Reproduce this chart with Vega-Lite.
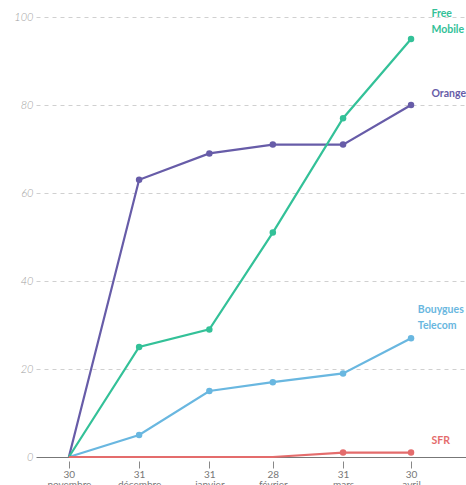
{
  "$schema": "https://vega.github.io/schema/vega-lite/v6.json",
  "width": 430,
  "height": 440,
  "autosize": "none",
  "padding": {"left": 36, "top": 17, "right": 0, "bottom": 28},
  "background": "white",
  "config": {
    "view": {"stroke": "transparent"},
    "font": "Lato"
  },
  "datasets": {
    "series": [
      {"operateur": "Bouygues Telecom", "date": "2013-11-30T00:00:00", "value": 0},
      {"operateur": "Bouygues Telecom", "date": "2013-12-31T00:00:00", "value": 5},
      {"operateur": "Bouygues Telecom", "date": "2014-01-31T00:00:00", "value": 15},
      {"operateur": "Bouygues Telecom", "date": "2014-02-28T00:00:00", "value": 17},
      {"operateur": "Bouygues Telecom", "date": "2014-03-31T00:00:00", "value": 19},
      {"operateur": "Bouygues Telecom", "date": "2014-04-30T00:00:00", "value": 27},
      {"operateur": "Orange", "date": "2013-11-30T00:00:00", "value": 0},
      {"operateur": "Orange", "date": "2013-12-31T00:00:00", "value": 63},
      {"operateur": "Orange", "date": "2014-01-31T00:00:00", "value": 69},
      {"operateur": "Orange", "date": "2014-02-28T00:00:00", "value": 71},
      {"operateur": "Orange", "date": "2014-03-31T00:00:00", "value": 71},
      {"operateur": "Orange", "date": "2014-04-30T00:00:00", "value": 80},
      {"operateur": "Free Mobile", "date": "2013-11-30T00:00:00", "value": 0},
      {"operateur": "Free Mobile", "date": "2013-12-31T00:00:00", "value": 25},
      {"operateur": "Free Mobile", "date": "2014-01-31T00:00:00", "value": 29},
      {"operateur": "Free Mobile", "date": "2014-02-28T00:00:00", "value": 51},
      {"operateur": "Free Mobile", "date": "2014-03-31T00:00:00", "value": 77},
      {"operateur": "Free Mobile", "date": "2014-04-30T00:00:00", "value": 95},
      {"operateur": "SFR", "date": "2013-11-30T00:00:00", "value": 0},
      {"operateur": "SFR", "date": "2013-12-31T00:00:00", "value": 0},
      {"operateur": "SFR", "date": "2014-01-31T00:00:00", "value": 0},
      {"operateur": "SFR", "date": "2014-02-28T00:00:00", "value": 0},
      {"operateur": "SFR", "date": "2014-03-31T00:00:00", "value": 1},
      {"operateur": "SFR", "date": "2014-04-30T00:00:00", "value": 1}
    ],
    "labels": [
      {"operateur": "Free Mobile", "label": "Free\nMobile", "date": "2014-05-09T00:00:00", "value": 101.8},
      {"operateur": "Orange", "label": "Orange", "date": "2014-05-09T00:00:00", "value": 83.6},
      {"operateur": "Bouygues Telecom", "label": "Bouygues\nTelecom", "date": "2014-05-03T00:00:00", "value": 34.6},
      {"operateur": "SFR", "label": "SFR", "date": "2014-05-09T00:00:00", "value": 4.8}
    ]
  },
  "encoding": {
    "x": {
      "field": "date",
      "type": "temporal",
      "title": null,
      "scale": {
        "domain": [
          {"year": 2013, "month": 11, "date": 15, "hours": 12},
          {"year": 2014, "month": 5, "date": 24, "hours": 6}
        ]
      },
      "axis": {
        "values": [
          {"year": 2013, "month": 11, "date": 30},
          {"year": 2013, "month": 12, "date": 31},
          {"year": 2014, "month": 1, "date": 31},
          {"year": 2014, "month": 2, "date": 28},
          {"year": 2014, "month": 3, "date": 31},
          {"year": 2014, "month": 4, "date": 30}
        ],
        "labelExpr": "[date(datum.value), ['janvier','février','mars','avril','mai','juin','juillet','août','septembre','octobre','novembre','décembre'][month(datum.value)]]",
        "grid": false,
        "domain": false,
        "offset": 4,
        "tickSize": 7,
        "tickColor": "#888",
        "labelPadding": 1,
        "labelFontSize": 10,
        "labelColor": "#777",
        "labelLineHeight": 10,
        "labelFlush": false,
        "labelOverlap": false
      }
    },
    "y": {
      "field": "value",
      "type": "quantitative",
      "title": null,
      "scale": {"domain": [0, 100]},
      "axis": {
        "values": [0, 20, 40, 60, 80, 100],
        "domain": false,
        "ticks": false,
        "labelPadding": 3,
        "labelFontSize": 11,
        "labelFontStyle": "italic",
        "labelFontWeight": 300,
        "labelColor": "#a0a0a0",
        "gridDash": {"condition": {"test": "datum.value === 0", "value": []}, "value": [4, 4]},
        "gridColor": {"condition": {"test": "datum.value === 0", "value": "#777"}, "value": "#d0d0d0"}
      }
    },
    "color": {
      "field": "operateur",
      "type": "nominal",
      "legend": null,
      "scale": {
        "domain": ["Free Mobile", "Orange", "Bouygues Telecom", "SFR"],
        "range": ["#33c198", "#675ca8", "#69b7e0", "#e46c6c"]
      }
    }
  },
  "layer": [
    {
      "data": {"name": "series"},
      "mark": {"type": "line", "strokeWidth": 2.2}
    },
    {
      "data": {"name": "series"},
      "transform": [{"filter": "datum.value > 0"}],
      "mark": {"type": "point", "filled": true, "size": 42, "opacity": 1}
    },
    {
      "data": {"name": "labels"},
      "mark": {
        "type": "text",
        "align": "left",
        "baseline": "top",
        "lineBreak": "\n",
        "lineHeight": 16,
        "fontSize": 10.5,
        "fontWeight": "bold"
      },
      "encoding": {
        "text": {"field": "label"}
      }
    }
  ]
}
